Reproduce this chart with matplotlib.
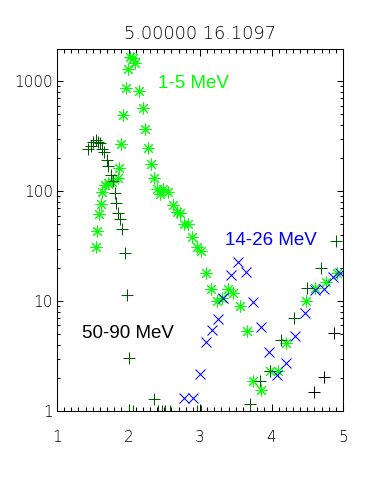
import numpy as np
import matplotlib
matplotlib.use('Agg')
import matplotlib.pyplot as plt
from matplotlib.ticker import FixedLocator, LogLocator, NullFormatter

# 1-5 MeV (green asterisks)
x_green = [2.021, 2.059, 2.091, 1.993, 1.972, 2.151, 2.196, 1.927, 2.234, 1.899,
           2.269, 1.871, 2.308, 2.358, 1.853, 1.773, 1.717, 1.676, 1.625, 1.615,
           1.587, 1.555, 1.545, 2.392, 2.441, 2.488, 2.557, 2.618, 2.674, 2.720,
           2.776, 2.836, 2.888, 2.954, 3.018, 3.077, 3.154, 3.231, 3.303, 3.385,
           3.466, 3.559, 3.653, 3.745, 3.853, 3.979, 4.095, 4.207, 4.480, 4.603,
           4.758, 4.916]
y_green = [1652, 1618, 1458, 1302, 875, 822, 569, 494, 368, 267,
           250, 163, 177, 131.6, 131, 122, 120, 114, 99, 76.7,
           61.8, 43.8, 31.4, 105, 94.5, 104, 98.6, 74.3, 65.3, 62.8,
           50.7, 50.7, 38.4, 31.4, 28.4, 18.0, 12.9, 10.07, 10.6, 12.9,
           11.8, 9.06, 5.34, 1.86, 1.56, 2.29, 2.29, 4.20, 10.1, 13.1,
           14.8, 18.0]

# 14-26 MeV (blue crosses)
x_blue = [2.779, 2.906, 2.996, 3.080, 3.168, 3.248, 3.318, 3.434, 3.538, 3.639,
          3.737, 3.848, 3.960, 4.080, 4.199, 4.329, 4.464, 4.608, 4.738, 4.864,
          4.958]
y_blue = [1.30, 1.30, 2.15, 4.27, 5.43, 6.86, 10.6, 17.2, 22.6, 18.3,
          9.75, 5.80, 3.41, 2.14, 2.73, 4.84, 7.78, 12.5, 12.9, 16.7,
          18.0]

# dark green plus channel
x_dkgreen = [1.438, 1.469, 1.508, 1.541, 1.573, 1.601, 1.636, 1.657, 1.694, 1.717,
             1.755, 1.783, 1.815, 1.829, 1.860, 1.885, 1.913, 1.951, 1.983, 2.011,
             2.361, 3.703, 3.843, 3.975, 4.137, 4.315, 4.492, 4.695, 4.899,
             2.007, 2.067, 2.408, 2.464, 2.510, 2.580, 2.962, 3.010]
y_dkgreen = [242, 258, 282, 293, 278, 273, 242, 228, 194, 169,
             141, 124, 96.6, 78.3, 63.1, 56.0, 45.6, 27.3, 11.4, 3.03,
             1.29, 1.16, 1.86, 2.29, 4.45, 7.08, 13.1, 20.0, 35.3,
             1.0, 1.0, 1.0, 1.0, 1.0, 1.0, 1.0, 1.0]

# 50-90 MeV (black plus)
x_black = [4.594, 4.730, 4.870]
y_black = [1.48, 2.06, 5.18]

title = '5.00000 16.1097'
xticks = [1, 2, 3, 4, 5]
yticks = [1, 10, 100, 1000]
ytick_labels = ['1', '10', '100', '1000']

plt.rcParams['font.family'] = ['DejaVu Sans']
plt.rcParams['font.weight'] = 'ultralight'

fig = plt.figure(figsize=(3.81, 4.84), dpi=100)
ax = fig.add_axes([57/381, 1 - 411/484, 286/381, 362/484])

lw = 0.75
asterisk = (8, 2, 0)
ax.plot(x_green, y_green, linestyle='none', marker=asterisk, ms=8.5,
        mec='#00ff00', mew=lw, color='#00ff00')
ax.plot(x_blue, y_blue, linestyle='none', marker='x', ms=7,
        mec='#0000ff', mew=lw)
ax.plot(x_dkgreen, y_dkgreen, linestyle='none', marker='+', ms=8.5,
        mec='#005a00', mew=lw)
ax.plot(x_black, y_black, linestyle='none', marker='+', ms=8.5,
        mec='black', mew=lw)

ax.set_yscale('log')
ax.set_xlim(1, 5)
ax.set_ylim(1, 1970)

ax.xaxis.set_major_locator(FixedLocator(xticks))
ax.xaxis.set_minor_locator(FixedLocator(np.arange(1, 5.001, 0.1)))
ax.set_xticklabels([str(t) for t in xticks])
ax.yaxis.set_major_locator(FixedLocator(yticks))
ax.yaxis.set_minor_locator(LogLocator(base=10, subs=np.arange(2, 10)))
ax.yaxis.set_minor_formatter(NullFormatter())
ax.set_yticklabels(ytick_labels)

ax.tick_params(axis='x', which='major', direction='in', length=5.2, width=lw,
               top=True, labelsize=11, pad=13.5)
ax.tick_params(axis='x', which='minor', direction='in', length=2.8, width=lw, top=True)
ax.tick_params(axis='y', which='major', direction='in', length=4.1, width=lw,
               right=True, labelsize=11, pad=3)
ax.tick_params(axis='y', which='minor', direction='in', length=2.1, width=lw, right=True)
for s in ax.spines.values():
    s.set_linewidth(lw)

ax.set_title(title, fontsize=12.8, pad=7, fontweight='ultralight')

lab_font = dict(family='Liberation Sans', fontsize=13.5, fontweight='normal',
                va='baseline', ha='left')
ax.text(2.413, 875, '1-5 MeV', color='#00ff00', **lab_font)
ax.text(3.350, 32.5, '14-26 MeV', color='#0000ff', **lab_font)
ax.text(1.350, 4.64, '50-90 MeV', color='black', **lab_font)

fig.savefig('out.png', dpi=100)
